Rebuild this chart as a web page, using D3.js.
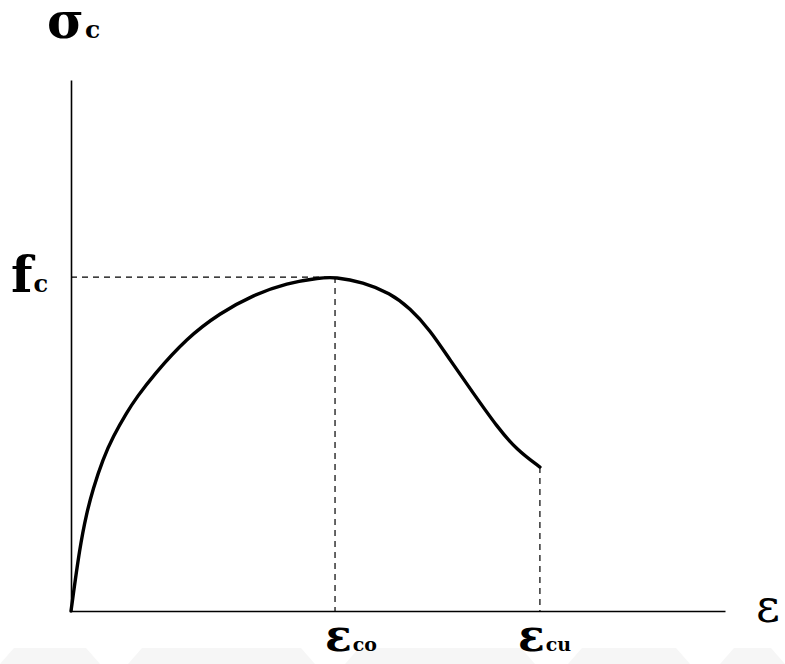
<!DOCTYPE html>
<html>
<head>
<meta charset="utf-8">
<script src="https://cdn.jsdelivr.net/npm/d3@7"></script>
<style>
  html, body { margin: 0; padding: 0; background: #fff; }
  svg { display: block; }
</style>
</head>
<body>
<svg id="chart" width="785" height="664"></svg>
<script>
// Normalised strain (εco = 1) and stress (fc = 1)
const strain = [0, 0.034, 0.059, 0.083, 0.121, 0.159, 0.212, 0.25, 0.311, 0.439, 0.564, 0.689, 0.818, 0.943, 1.0,
                1.106, 1.208, 1.284, 1.360, 1.436, 1.523, 1.614, 1.689, 1.776];
const stress = [0, 0.195, 0.292, 0.365, 0.455, 0.522, 0.596, 0.641, 0.705, 0.818, 0.892, 0.946, 0.982, 0.998, 1.0,
                0.985, 0.952, 0.907, 0.841, 0.751, 0.653, 0.551, 0.482, 0.431];
const epsCo = 1.0;
const epsCu = 1.776;
const fc = 1.0;
const xMax = 2.477;
const yMax = 1.59;

const svg = d3.select("#chart");

// faint watermark band at the bottom of the scan
const band = svg.append("g").attr("fill", "#f6f6f6");
[[0, 100], [128, 315], [345, 535], [568, 690], [720, 785]].forEach(([a, b]) => {
  band.append("path").attr("d", `M${a},664 L${a + 14},648 L${b - 14},648 L${b},664 Z`);
});

const x0 = 71, x1 = 725, y0 = 611, y1 = 80;
const x = d3.scaleLinear().domain([0, xMax]).range([x0, x1]);
const y = d3.scaleLinear().domain([0, yMax]).range([y0, y1]);

// axes (plain lines, no ticks)
svg.append("g").attr("transform", `translate(0,${y0})`)
  .call(d3.axisBottom(x).tickValues([]).tickSizeOuter(0))
  .call(g => g.select(".domain").attr("stroke", "#000").attr("stroke-width", 1.6));
svg.append("g").attr("transform", `translate(${x0},0)`)
  .call(d3.axisLeft(y).tickValues([]).tickSizeOuter(0))
  .call(g => g.select(".domain").attr("stroke", "#000").attr("stroke-width", 1.6));

// dashed guides
const dash = "6,5";
svg.append("line").attr("x1", x(0)).attr("x2", x(epsCo)).attr("y1", y(fc)).attr("y2", y(fc))
  .attr("stroke", "#000").attr("stroke-width", 1.2).attr("stroke-dasharray", dash);
svg.append("line").attr("x1", x(epsCo)).attr("x2", x(epsCo)).attr("y1", y(fc)).attr("y2", y(0))
  .attr("stroke", "#000").attr("stroke-width", 1.2).attr("stroke-dasharray", dash);
const endIdx = strain.length - 1;
svg.append("line").attr("x1", x(epsCu)).attr("x2", x(epsCu)).attr("y1", y(stress[endIdx])).attr("y2", y(0))
  .attr("stroke", "#000").attr("stroke-width", 1.2).attr("stroke-dasharray", dash);

// curve
const pts = strain.map((s, i) => [s, stress[i]]);
svg.append("path").datum(pts)
  .attr("fill", "none").attr("stroke", "#000").attr("stroke-width", 3.4)
  .attr("stroke-linejoin", "round").attr("stroke-linecap", "round")
  .attr("d", d3.line().x(d => x(d[0])).y(d => y(d[1])).curve(d3.curveBasis));

// labels
const serif = "'DejaVu Serif', 'Liberation Serif', serif";
function label(xp, yp, main, sub, mainSize, subSize, weight) {
  const t = svg.append("text").attr("x", xp).attr("y", yp)
    .attr("font-family", serif).attr("font-weight", weight).attr("fill", "#000");
  t.append("tspan").attr("font-size", mainSize).text(main);
  if (sub) t.append("tspan").attr("font-size", subSize).attr("dx", 1).text(sub);
  return t;
}
label(47, 38, "σ", "c", 50, 25, "bold");
label(11, 292, "f", "c", 50, 24, "bold");
label(x(epsCo) - 10, 651, "ε", "co", 44, 19, "bold");
label(x(epsCu) - 22, 651, "ε", "cu", 44, 19, "bold");
label(756, 622, "ε", null, 46, 0, "normal");
</script>
</body>
</html>
